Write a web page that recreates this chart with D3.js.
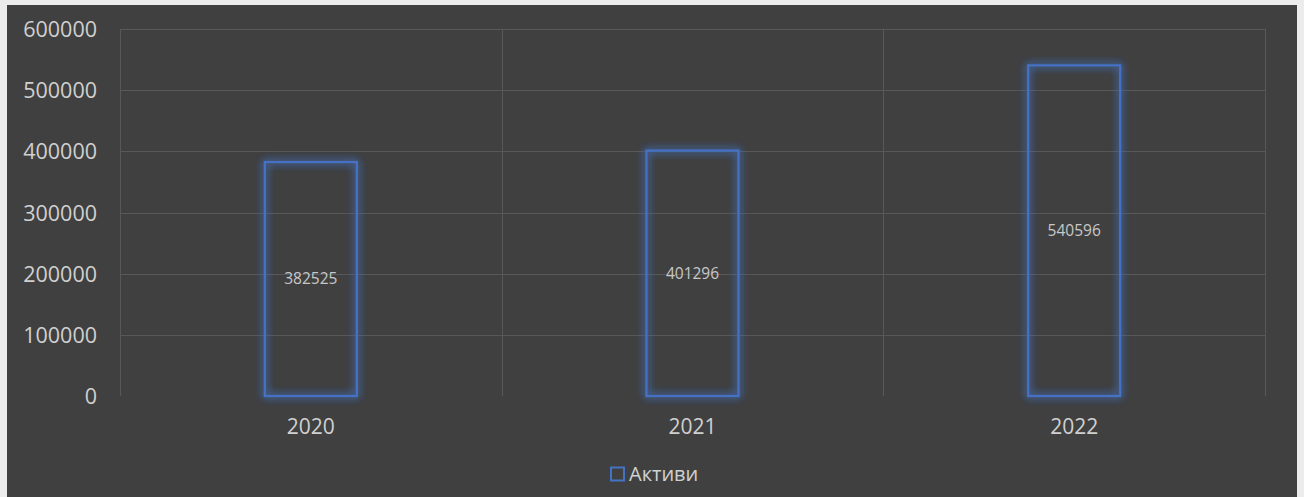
<!DOCTYPE html>
<html>
<head>
<meta charset="utf-8">
<script src="https://cdn.jsdelivr.net/npm/d3@7/dist/d3.min.js"></script>
<style>
  html, body { margin: 0; padding: 0; background: #e8e8e8; }
  svg { display: block; }
  text { font-family: "Open Sans", "Liberation Sans", sans-serif; }
</style>
</head>
<body>
<svg id="chart" width="1304" height="497"></svg>
<script>
const categories = ["2020", "2021", "2022"];
const values = [382525, 401296, 540596];
const yTicks = [0, 100000, 200000, 300000, 400000, 500000, 600000];
const seriesName = "Активи";

const W = 1304, H = 497;
const svg = d3.select("#chart");

// frame / background
svg.append("rect").attr("x", 0).attr("y", 0).attr("width", W).attr("height", H).attr("fill", "#ececec");
svg.append("rect").attr("x", 7).attr("y", 5).attr("width", 1290).attr("height", H - 5).attr("fill", "#404040");

const plot = { left: 120, right: 1265, top: 29, bottom: 396 };

const x = d3.scaleBand().domain(categories).range([plot.left, plot.right]).paddingInner(0).paddingOuter(0);
const y = d3.scaleLinear().domain([0, 600000]).range([plot.bottom, plot.top]);

const defs = svg.append("defs");
const glow = defs.append("filter").attr("id", "glow").attr("x", "-30%").attr("y", "-30%").attr("width", "160%").attr("height", "160%");
glow.append("feGaussianBlur").attr("in", "SourceGraphic").attr("stdDeviation", 4).attr("result", "blur");
const merge = glow.append("feMerge");
merge.append("feMergeNode").attr("in", "blur");
merge.append("feMergeNode").attr("in", "blur");
merge.append("feMergeNode").attr("in", "SourceGraphic");

// horizontal gridlines
svg.append("g").selectAll("line").data(yTicks.filter(d => d > 0)).join("line")
  .attr("x1", plot.left).attr("x2", plot.right)
  .attr("y1", d => Math.round(y(d)) + 0.5).attr("y2", d => Math.round(y(d)) + 0.5)
  .attr("stroke", "#585858").attr("stroke-width", 1);

// vertical gridlines at category boundaries
const vBounds = categories.map(c => x(c)).concat([plot.right]);
svg.append("g").selectAll("line").data(vBounds).join("line")
  .attr("x1", d => Math.round(d) + 0.5).attr("x2", d => Math.round(d) + 0.5)
  .attr("y1", plot.top).attr("y2", plot.bottom)
  .attr("stroke", "#585858").attr("stroke-width", 1);

// y axis labels
const yAxis = d3.axisLeft(y).tickValues(yTicks).tickSize(0).tickPadding(0).tickFormat(d3.format("d"));
const gy = svg.append("g").attr("transform", `translate(${97},0)`).call(yAxis);
gy.select(".domain").remove();
gy.selectAll("text").attr("fill", "#d0d0d0").style("font-size", "21.5px")
  .style("font-family", "'Open Sans', 'Liberation Sans', sans-serif").attr("dy", "0.35em");

// x axis labels
const xAxis = d3.axisBottom(x).tickSize(0).tickPadding(0);
const gx = svg.append("g").attr("transform", `translate(0,${plot.bottom})`).call(xAxis);
gx.select(".domain").remove();
gx.selectAll("text").attr("fill", "#d0d0d0").style("font-size", "21px")
  .style("font-family", "'Open Sans', 'Liberation Sans', sans-serif").attr("y", 38).attr("dy", 0);

// bars
const barW = 92;
const bars = svg.append("g");
bars.selectAll("rect").data(values).join("rect")
  .attr("x", (d, i) => x(categories[i]) + x.bandwidth() / 2 - barW / 2)
  .attr("y", d => y(d))
  .attr("width", barW)
  .attr("height", d => plot.bottom - y(d))
  .attr("fill", "none")
  .attr("stroke", "#4472C4")
  .attr("stroke-width", 2.2)
  .attr("filter", "url(#glow)");

// data labels
svg.append("g").selectAll("text").data(values).join("text")
  .attr("x", (d, i) => x(categories[i]) + x.bandwidth() / 2)
  .attr("y", d => (y(d) + plot.bottom) / 2)
  .attr("text-anchor", "middle").attr("dy", "0.35em")
  .attr("fill", "#c8c8c8").style("font-size", "15.5px")
  .text(d => d);

// legend
const lg = svg.append("g");
lg.append("rect").attr("x", 611).attr("y", 467.5).attr("width", 13).attr("height", 13)
  .attr("fill", "none").attr("stroke", "#4472C4").attr("stroke-width", 2);
lg.append("text").attr("x", 629).attr("y", 481).attr("fill", "#d0d0d0").style("font-size", "20px").text(seriesName);
</script>
</body>
</html>
